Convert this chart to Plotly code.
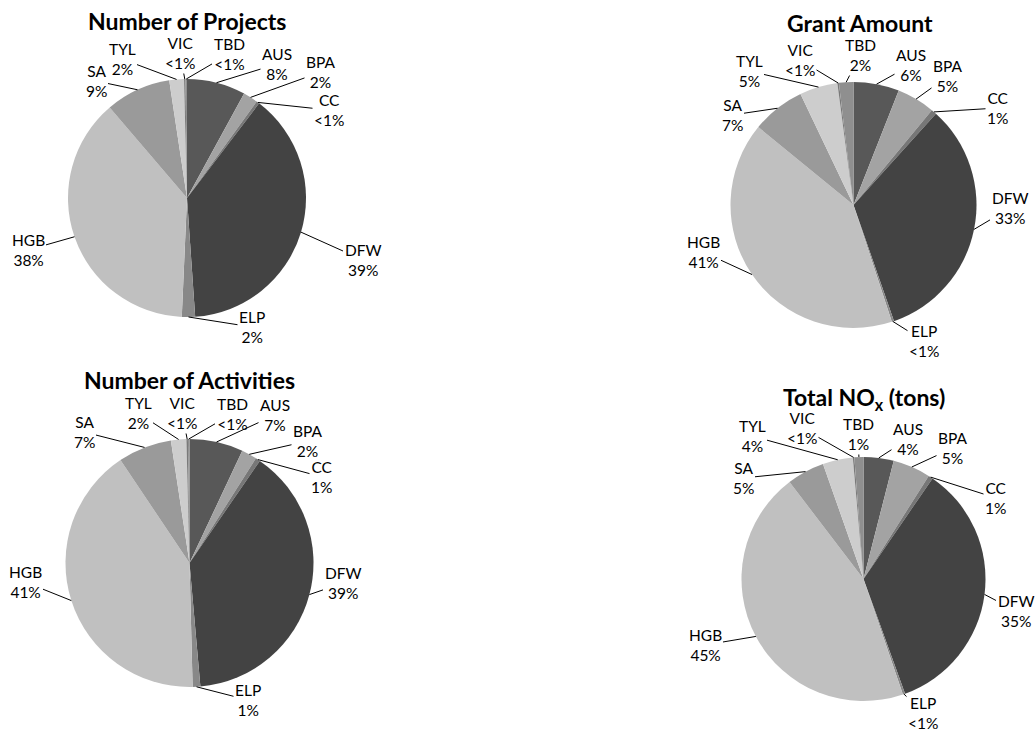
import math
import plotly.graph_objects as go

# ---------------- data ----------------
regions = ["AUS", "BPA", "CC", "DFW", "ELP", "HGB", "SA", "TYL", "VIC", "TBD"]

projects_pct = [8, 2, 0.4, 38.7, 1.8, 38.2, 8.9, 2.0, 0.2, 0.2]
activities_pct = [7, 2, 0.6, 39, 1, 41, 7, 2, 0.2, 0.2]
grant_pct = [6, 5, 0.7, 33, 0.3, 41, 7, 5, 0.2, 1.9]
nox_pct = [4, 5, 0.6, 35, 0.3, 45, 5, 4, 0.2, 1.2]

titles = ["Number of Projects", "Number of Activities", "Grant Amount",
          "Total NO<sub>x</sub> (tons)"]

# ---------------- styles / layout ----------------
W, H = 1036, 732
colors = ["#585858", "#a3a3a3", "#777777", "#434343", "#888888",
          "#c0c0c0", "#9a9a9a", "#cdcdcd", "#7a7a7a", "#8f8f8f"]
FONT = "Lato, 'Open Sans', sans-serif"

# pie centers and radii in pixels
pie_geo = {
    "projects": (187, 198, 119),
    "activities": (189.5, 563, 124),
    "grant": (853.5, 205, 123),
    "nox": (863.5, 579, 122),
}
title_pos = {
    "projects": (187, 21),
    "activities": (189, 380),
    "grant": (860, 23),
    "nox": (864, 398),
}
# label text centers (pixels), order = regions
label_pos = {
    "projects": [(277, 64), (321, 72), (329, 110), (363, 260), (252, 327),
                 (28, 250), (96, 81), (122, 59), (180, 53), (229, 54)],
    "activities": [(275, 415), (308, 441), (322, 477), (343, 583), (248, 700),
                   (25, 582), (84, 432), (138, 413), (182, 413), (232, 414)],
    "grant": [(911, 65), (948, 76), (998, 108), (1010, 208), (924, 341),
              (703, 252), (732, 115), (749, 71), (800, 60), (860, 55)],
    "nox": [(908, 439), (953, 448), (996, 498), (1016, 611), (923, 713),
            (705, 645), (743, 478), (752, 436), (802, 428), (858, 434)],
}

series = {
    "projects": projects_pct,
    "activities": activities_pct,
    "grant": grant_pct,
    "nox": nox_pct,
}
order = ["projects", "activities", "grant", "nox"]


def pct_text(v, total):
    p = v / total * 100
    return "&lt;1%" if round(p) < 1 else f"{round(p):.0f}%"


fig = go.Figure()
annotations = []

for key, title in zip(order, titles):
    vals = series[key]
    cx, cy, r = pie_geo[key]
    fig.add_trace(go.Pie(
        labels=regions, values=vals, sort=False, direction="clockwise",
        rotation=0, textinfo="none", hoverinfo="label+percent",
        marker=dict(colors=colors, line=dict(width=0)),
        domain=dict(x=[(cx - r) / W, (cx + r) / W],
                    y=[1 - (cy + r) / H, 1 - (cy - r) / H]),
        showlegend=False,
    ))
    total = sum(vals)
    cum = 0.0
    for i, (name, v) in enumerate(zip(regions, vals)):
        mid = (cum + v / 2) / total * 2 * math.pi
        cum += v
        px = cx + r * math.sin(mid)
        py = cy - r * math.cos(mid)
        lx, ly = label_pos[key][i]
        annotations.append(dict(
            x=px / W, y=1 - py / H, xref="paper", yref="paper",
            ax=lx - px, ay=ly - py, axref="pixel", ayref="pixel",
            text=f"{name}<br>{pct_text(v, total)}",
            showarrow=True, arrowhead=0, arrowwidth=1, arrowcolor="black",
            standoff=0, startstandoff=0, align="center",
            font=dict(family=FONT, size=15.5, color="#000000"),
        ))
    tx, ty = title_pos[key]
    annotations.append(dict(
        x=tx / W, y=1 - ty / H, xref="paper", yref="paper",
        text=f"<b>{title}</b>", showarrow=False,
        xanchor="center", yanchor="middle",
        font=dict(family=FONT, size=23, color="#000000"),
    ))

fig.update_layout(
    width=W, height=H, margin=dict(l=0, r=0, t=0, b=0),
    paper_bgcolor="white", plot_bgcolor="white",
    annotations=annotations,
)

fig.write_html(
    "out.html",
    config={"displayModeBar": False},
    post_script="document.body.style.margin='0px';"
                "document.body.style.overflow='hidden';",
)
